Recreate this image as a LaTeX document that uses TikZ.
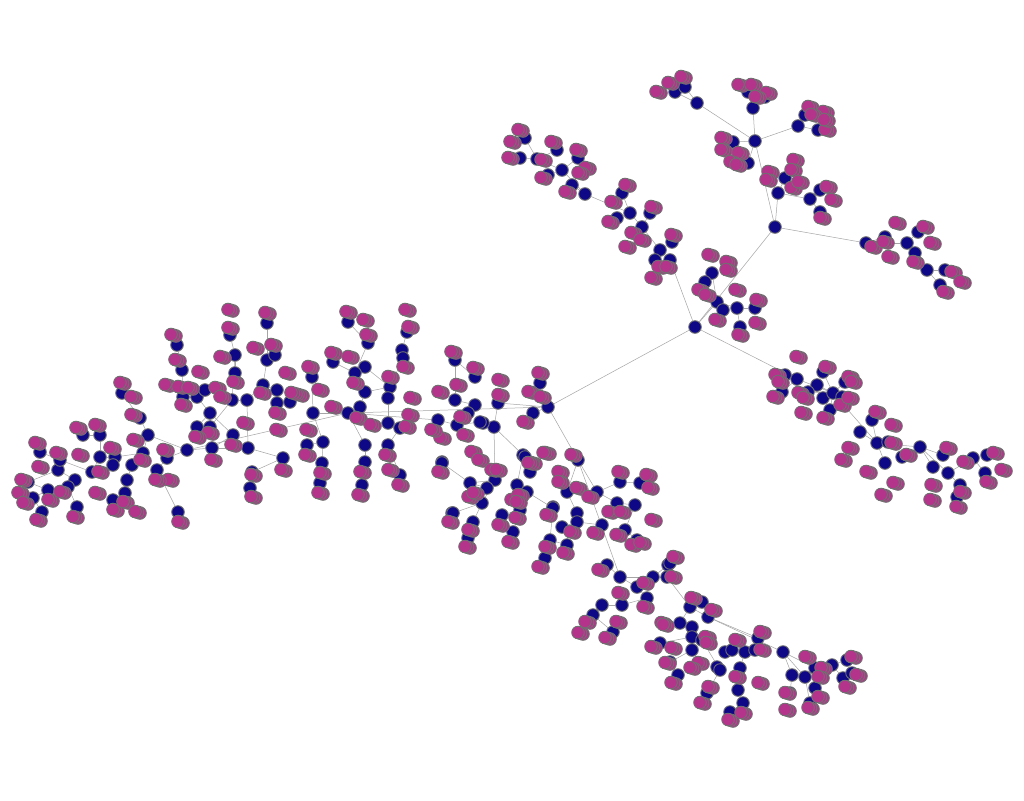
\documentclass[tikz,border=0pt]{standalone}
\usetikzlibrary{backgrounds}
\definecolor{hubc}{RGB}{14,8,134}
\definecolor{leafc}{RGB}{180,52,140}
\definecolor{rimc}{RGB}{112,112,112}
\definecolor{edgec}{RGB}{165,165,165}
\tikzset{
  hub/.style={circle, fill=hubc, draw=rimc, line width=0.9pt, minimum size=12.6pt, inner sep=0pt},
  leaf/.style={hub, fill=leafc},
  link/.style={draw=edgec, line width=0.5pt}
}
\begin{document}
\begin{tikzpicture}[x=1pt,y=-1pt]
\useasboundingbox (0,0) rectangle (1024,800);
% hubs (navy)
\foreach \nm/\x/\y in {
A/697/103, B/755/141, C/753/108, D/798/126, E/775/227, F/695/327,
a1/675/92, a2/685/87, c1/748/92, c2/765/97, d1/805/115, d2/818/130,
b1/733/142, b2/748/163, e1/778/193, e2/785/178, e4/810/199, e5/820/190, e6/820/212,
r1/866/243, r2/885/237, r3/907/243, r4/918/232, r5/915/253, r6/927/270, r7/945/270, r8/940/285,
k1/525/138, k2/520/158, k3/537/159, k4/557/150, k5/548/175, k6/562/170, k7/578/158, k8/572/185, k9/585/194,
k10/622/193, k11/617/218, k12/630/213, k13/650/213, k14/642/227, k15/672/242, k16/660/250, k17/655/260, k18/670/260,
m1/712/273, m2/705/282, m3/717/302, m4/737/308, m5/755/308, m6/740/327, m7/723/310,
s1/797/379, s2/785/375, s3/782/392, s4/823/372, s5/817/385, s6/808/392, s7/823/398, s8/833/393, s9/842/397, s10/830/410, s11/845/382,
t1/877/443, t2/872/420, t3/860/432, t5/885/463, t6/888/442,
u1/920/447, u2/902/457, u3/933/467, u4/948/473, u5/943/455, u6/973/458, u7/987/455, u8/985/473, u9/960/485, u10/957/497,
G/548/407, g1/540/383, g2/533/413, g3/498/403, g4/494/427, g5/483/423,
h1/348/322, h2/368/343, h3/407/332, h4/402/350, h5/403/358, h6/333/362, h7/365/367, h8/355/373, h9/390/387, h10/388/398,
h11/365/392, h12/360/407, L1/348/413, h13/388/423, h14/400/428, h15/312/377, h16/313/413, h17/323/442, h18/307/445,
h19/322/463, h20/320/483, h21/365/445, h22/365/462, h23/362/485, h24/388/445, h25/400/475, h26/455/360, h27/475/377,
h28/475/405, h29/480/422, h30/468/413, h31/457/425, h32/438/420, h33/442/462, h34/455/400, h35/523/455, h36/530/472,
h37/495/480, h38/470/483, h39/487/488, h40/452/513, h41/553/507,
l1/177/345, l2/230/335, l3/235/355, l4/235/373, l5/267/323, l6/267/360, l7/275/355, l8/182/370, l9/183/397, l10/197/397,
l11/205/390, l12/210/413, l13/197/427, l14/210/427, l15/232/400, l16/247/400, l17/233/435, l18/248/448, l19/212/448,
L2/187/450, l20/263/385, l21/277/390, l22/277/403, l24/290/402, l26/283/458, l27/252/472, l28/250/488, l29/122/393,
l30/140/418, l31/148/435, l32/143/453, l33/167/458, l34/157/470, l35/127/480, l36/100/457, l37/115/457, l38/92/472,
l39/113/465, l40/58/470, l41/75/480, l42/68/487, l43/48/490, l44/33/498, l45/42/512, l46/28/482, l47/40/452, l48/60/460,
l49/83/435, l50/100/435, l51/125/493, l52/113/500, l53/77/507, l54/178/512, l55/132/465,
v0/578/460, q1/442/463, q3/482/503, q4/453/513, q5/473/522, q6/468/538, q7/517/485, q8/527/492, q9/520/510, q10/513/532,
q11/502/515, q12/525/457, q13/553/508, q14/550/540, q15/567/545, q16/545/558, q17/567/492, q18/577/513, q19/577/522,
q20/597/492, q21/562/527, q22/602/525, q23/617/503, q24/635/505, q25/620/482, q26/640/483, q27/625/530, q28/637/540,
q29/607/565, q30/620/577, q31/637/587, q32/653/577, q33/668/565, q34/667/577, q35/602/605, q36/593/615, q37/622/605,
q38/613/632, q39/647/598, q40/690/607, q41/708/617, q42/680/623, q43/692/627, q44/692/637, q45/692/650, q46/660/643,
q47/717/667,
w1/670/563, w5/702/602, w13/670/662, w14/678/675, w15/702/640, w16/720/670, w17/707/693, w18/725/652, w19/732/650,
w20/745/652, w21/740/668, w22/738/690, w23/743/703, w24/730/712, w25/758/638, w26/755/650, w27/783/652, w28/792/675,
w29/805/677, w30/790/693, w31/810/703, w32/815/668, w33/815/688, w34/832/665, w35/847/660, w36/843/678, w37/852/673}
  {\node[hub] (\nm) at (\x,\y) {};}
% connectors and white ground, behind everything
\begin{scope}[on background layer]
\fill[white] (0,0) rectangle (1024,800);
\foreach \a/\b in {
A/B, C/B, D/B, a2/A, a1/A, c1/C, c2/C, d1/D, d2/D, b1/B, b2/B, B/E, E/e1, e1/e2, e1/e4, e4/e5, e4/e6,
E/r1, r1/r2, r1/r3, r3/r4, r3/r5, r3/r6, r6/r7, r6/r8, E/F,
F/m3, m3/m1, m1/m2, m3/m4, m4/m5, m4/m6, m4/m7,
F/k18, k18/k17, k18/k16, k16/k15, k16/k14, k14/k13, k14/k12, k12/k10, k12/k11, k12/k9, k9/k8, k9/k6,
k6/k7, k6/k5, k6/k3, k3/k4, k3/k2, k3/k1,
F/s1, s1/s2, s1/s3, s1/s8, s8/s4, s8/s5, s8/s6, s8/s7, s8/s9, s8/s10, s8/s11, s8/t1, t1/t2, t1/t3, t1/t5, t1/t6,
t1/u1, u1/u2, u1/u3, u1/u4, u1/u5, u4/u6, u6/u7, u6/u8, u4/u9, u9/u10,
F/G, G/g1, G/g2, G/L1, G/g3, g3/g4, g4/h35, g4/h37, g4/g5, g4/h29,
G/v0, v0/q30, v0/q17, v0/q20, q20/q25, q25/q26, q20/q23, q23/q24, q24/q27, q27/q28,
q30/q29, q30/q31, q30/q32, q32/q33, q32/q34, q34/q40, q40/q41, q41/w27, w27/w28, w27/w29, w27/w32,
w32/w34, w34/w35, w34/w36, w36/w37, w29/w31, w28/w30, w32/w33, q41/w25, w25/w26, w26/w20, w20/w19, w19/w18,
w20/w21, w21/w22, w22/w23, w23/w24, q41/w5, q40/q42, q42/q43, q43/q44, q44/q45, q45/w13, w13/w14,
q46/q44, w16/w17, w16/w15, w15/q43, q33/w1, q31/q39, q39/q37, q37/q35, q35/q36, q36/q38,
h35/h36, h35/q12, h35/q7, q7/q8, q8/q9, q9/q10, q9/q11, q8/q13, q13/q14, q14/q15, q14/q16, q13/h41,
q17/q18, q18/q19, q19/q21, q19/q22,
h37/h38, h38/h39, h38/q1, h37/q3, q3/q4, q3/q5, q5/q6, q4/h40,
L1/h12, h12/h11, h11/h9, h9/h10, h10/h13, h13/h14, h3/h4, h4/h5, h5/h9, h9/h7, h7/h8, h8/h2, h2/h1, h8/h6,
L1/h16, h16/h15, h16/h17, h17/h18, h17/h19, h19/h20, L1/h21, h21/h22, h22/h23, h14/h24, h24/h25,
L1/h32, h32/h31, h31/h30, h30/h28, h28/h34, h34/h26, h26/h27, h31/h29, q1/h33,
L1/L2, L2/l31, L2/l19, l19/l18, l19/l17, l17/l12, l12/l13, l12/l14, l12/l10, l10/l9, l9/l8, l8/l1, l10/l11,
l14/l15, l15/l3, l3/l2, l3/l4, l15/l16, l16/l18, l16/l20, l20/l6, l6/l5, l6/l7, l20/l21, l21/l22, l22/l24,
l18/l26, l26/l27, l27/l28, L2/l33, l33/l34, l34/l54, l31/l30, l30/l29, l31/l32, l32/l55, l55/l35, l35/l51,
l51/l52, l32/l37, l37/l36, l36/l50, l50/l49, l36/l38, l38/l39, l38/l48, l48/l40, l48/l47, l40/l41, l41/l42,
l42/l53, l40/l46, l46/l43, l43/l44, l44/l45}
  {\draw[link] (\a) -- (\b);}
\end{scope}
% leaves (magenta), each a small stack of three discs
\foreach \x/\y [count=\i] in {
658/92, 670/83, 683/77, 740/85, 753/85, 768/93, 757/97, 810/107, 825/112, 813/115, 827/130, 826/120,
723/138, 723/150, 740/153, 732/162, 738/165, 770/172, 768/180, 795/160, 793/170, 793/188, 800/182,
828/187, 833/200, 822/218,
873/247, 885/242, 890/257, 897/223, 925/227, 932/243, 915/262, 953/272, 962/282, 945/292,
520/130, 512/142, 510/158, 553/142, 543/160, 543/178, 578/150, 587/168, 580/173, 567/192, 627/185,
613/202, 610/222, 627/247, 633/233, 653/207, 673/235, 642/240, 660/267, 653/278, 668/267, 710/255,
728/262, 728/270, 700/290, 707/295, 737/290, 758/300, 757/323, 740/335, 717/320,
798/357, 777/375, 780/382, 775/397, 827/367, 850/377, 853/382, 800/393, 805/398, 803/413, 825/418,
842/405, 850/398, 877/412, 893/425, 850/448, 843/460, 868/472, 893/443, 895/483, 883/495, 908/455,
948/448, 965/462, 933/485, 932/500, 962/492, 958/507, 995/453, 1003/470, 988/482,
540/373, 530/392, 542/397, 525/422, 500/380, 500/395,
348/312, 365/320, 368/335, 407/310, 410/327, 333/353, 350/357, 355/383, 310/367, 320/390, 333/407,
358/418, 372/425, 390/377, 405/367, 412/398, 410/415, 407/427, 300/395, 308/430, 307/455, 322/473,
320/493, 387/455, 390/470, 400/485, 362/472, 360/495, 453/352, 475/368, 458/385, 440/392, 442/438,
433/430, 462/417, 465/435, 440/472, 473/452, 480/460, 493/470, 533/463, 547/453, 560/472, 573/455,
470/497, 513/500, 520/495,
230/310, 267/313, 173/335, 230/328, 177/360, 222/357, 255/348, 273/345, 287/373, 200/372, 167/385,
180/387, 190/388, 183/405, 217/388, 222/397, 235/382, 262/393, 293/393, 277/413, 278/430, 245/423,
210/433, 197/437, 233/445, 213/460, 122/383, 133/397, 133/415, 135/440, 142/460, 165/450, 170/480,
157/480, 180/522, 78/428, 97/425, 80/455, 37/443, 58/453, 40/467, 23/480, 20/493, 25/503, 38/520,
50/500, 62/492, 112/448, 100/472, 97/493, 115/510, 125/502, 137/512, 75/517, 253/475, 253/497, 283/470,
498/470, 545/453, 530/463, 560/482, 578/488, 590/497, 620/472, 648/475, 650/488, 653/520,
475/493, 518/502, 517/518, 548/515, 500/525, 450/522, 470/530, 510/542, 467/547, 547/547, 565/553,
572/532, 595/533, 610/512, 622/512, 618/535, 633/545, 642/543, 540/567, 600/570, 645/583, 620/593,
587/622, 580/633, 607/638, 618/622, 645/607, 675/557, 673/577, 693/598, 713/610, 663/623, 673/648,
653/647, 707/637, 667/663, 700/663,
665/625, 708/643, 692/668, 673/683, 710/687, 702/703, 737/640, 737/677, 760/683, 730/720, 743/713,
762/632, 762/650, 807/657, 823/668, 820/677, 820/697, 810/708, 787/693, 787/710, 853/657, 858/675, 847/687}
  {\node[leaf] (pc\i) at (\x+3,\y+1) {};
   \node[leaf] (pb\i) at (\x+0.5,\y+0.2) {};
   \node[leaf] (p\i) at (\x-2,\y-0.5) {};}
\end{tikzpicture}
\end{document}
